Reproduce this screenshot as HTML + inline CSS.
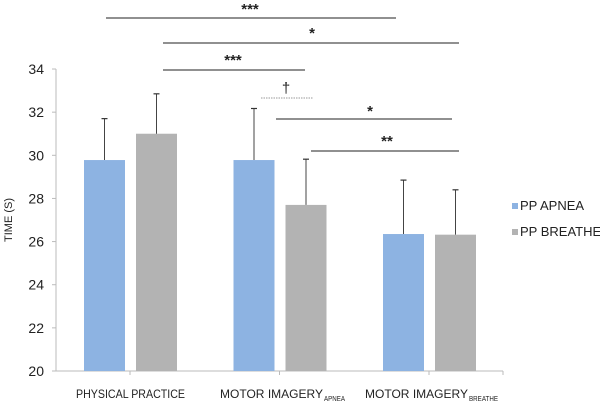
<!DOCTYPE html>
<html><head><meta charset="utf-8"><style>
html,body{margin:0;padding:0;background:#fff;}
svg{display:block;font-family:"Liberation Sans",sans-serif;}
</style></head><body>
<svg id="chart" width="600" height="402" viewBox="0 0 600 402">
<g id="axes"></g><g id="bars"></g><g id="sig"></g>
<g>
<rect x="512" y="203" width="6" height="6" fill="#8db3e2"/>
<text x="520" y="210" font-size="13" fill="#222">PP APNEA</text>
<rect x="512" y="229" width="6" height="6" fill="#b3b3b3"/>
<text x="520" y="236" font-size="13" fill="#222">PP BREATHE</text>
</g>
<text transform="translate(12,220) rotate(-90)" text-anchor="middle" font-size="11" fill="#222">TIME (S)</text>
<g font-size="12" fill="#222">
<text x="76" y="398" textLength="109" lengthAdjust="spacingAndGlyphs">PHYSICAL PRACTICE</text>
<text x="220" y="398" textLength="103" lengthAdjust="spacingAndGlyphs">MOTOR IMAGERY</text>
<text x="324" y="401" font-size="7" textLength="21" lengthAdjust="spacingAndGlyphs">APNEA</text>
<text x="365" y="398" textLength="103" lengthAdjust="spacingAndGlyphs">MOTOR IMAGERY</text>
<text x="469" y="401" font-size="7" textLength="29" lengthAdjust="spacingAndGlyphs">BREATHE</text>
</g>
</svg>
<script>
const categories=["PHYSICAL PRACTICE","MOTOR IMAGERY APNEA","MOTOR IMAGERY BREATHE"];
const apnea=[29.78,29.78,26.35];
const breathe=[31.0,27.7,26.32];
const apneaErr=[1.92,2.39,2.5];
const breatheErr=[1.85,2.12,2.08];
const yTicks=[20,22,24,26,28,30,32,34];
const NS="http://www.w3.org/2000/svg";
const y=v=>371-(v-20)*21.57;
const cx=i=>130+i*149.5;
function mk(t,a,p){const e=document.createElementNS(NS,t);for(const k in a)e.setAttribute(k,a[k]);p.appendChild(e);return e;}
const ax=document.getElementById('axes');
const yl=mk('line',{x1:56,y1:y(34),x2:56,y2:371,stroke:'#bbb'},ax);


const xl=mk('line',{x1:56,y1:371,x2:503,y2:371,stroke:'#bbb'},ax);


yTicks.forEach(t=>{
 mk('line',{x1:52,y1:y(t),x2:56,y2:y(t),stroke:'#bbb'},ax);
 const tx=mk('text',{x:44,y:y(t)+5,'text-anchor':'end','font-size':14,fill:'#222'},ax);
 tx.textContent=t;
 
 
});
categories.forEach((c,i)=>{mk('line',{x1:cx(i),y1:371,x2:cx(i),y2:375,stroke:'#bbb'},ax);});
mk('line',{x1:503,y1:371,x2:503,y2:375,stroke:'#bbb'},ax);
const bg=document.getElementById('bars');
function bar(v,e,x,col,name){
 const r=mk('rect',{x:x-20.5,y:y(v),width:41,height:371-y(v),fill:col},bg);
 
 
 const l=mk('line',{x1:x,y1:y(v),x2:x,y2:y(v+e),stroke:'#444','stroke-width':1},bg);
 
 
 mk('line',{x1:x-3,y1:y(v+e),x2:x+3,y2:y(v+e),stroke:'#333','stroke-width':1.2},bg);
}
categories.forEach((c,i)=>{
 bar(apnea[i],apneaErr[i],cx(i)-25.5,'#8db3e2','bar-apnea-'+i);
 bar(breathe[i],breatheErr[i],cx(i)+26.5,'#b3b3b3','bar-breathe-'+i);
});
const sg=document.getElementById('sig');
const sigs=[[106,396,18,'***',250,9],[163,459,43,'*',312,33],[163,305,70,'***',233,60],[261,313,98,'†',286,88],[276,452,119,'*',370,111],[311,459,151,'**',387,141]];
sigs.forEach((s,k)=>{
 const l=mk('line',{x1:s[0],y1:s[2],x2:s[1],y2:s[2],stroke:k==3?'#999':'#222','stroke-width':1,'stroke-dasharray':k==3?'1.5,1':'none'},sg);
 
 
 const t=mk('text',{x:s[4],y:s[5]+5,'text-anchor':'middle','font-size':15,'font-weight':k==3?'normal':'bold',fill:'#222'},sg);
 t.textContent=s[3];
 
 
});
</script>
</body></html>
